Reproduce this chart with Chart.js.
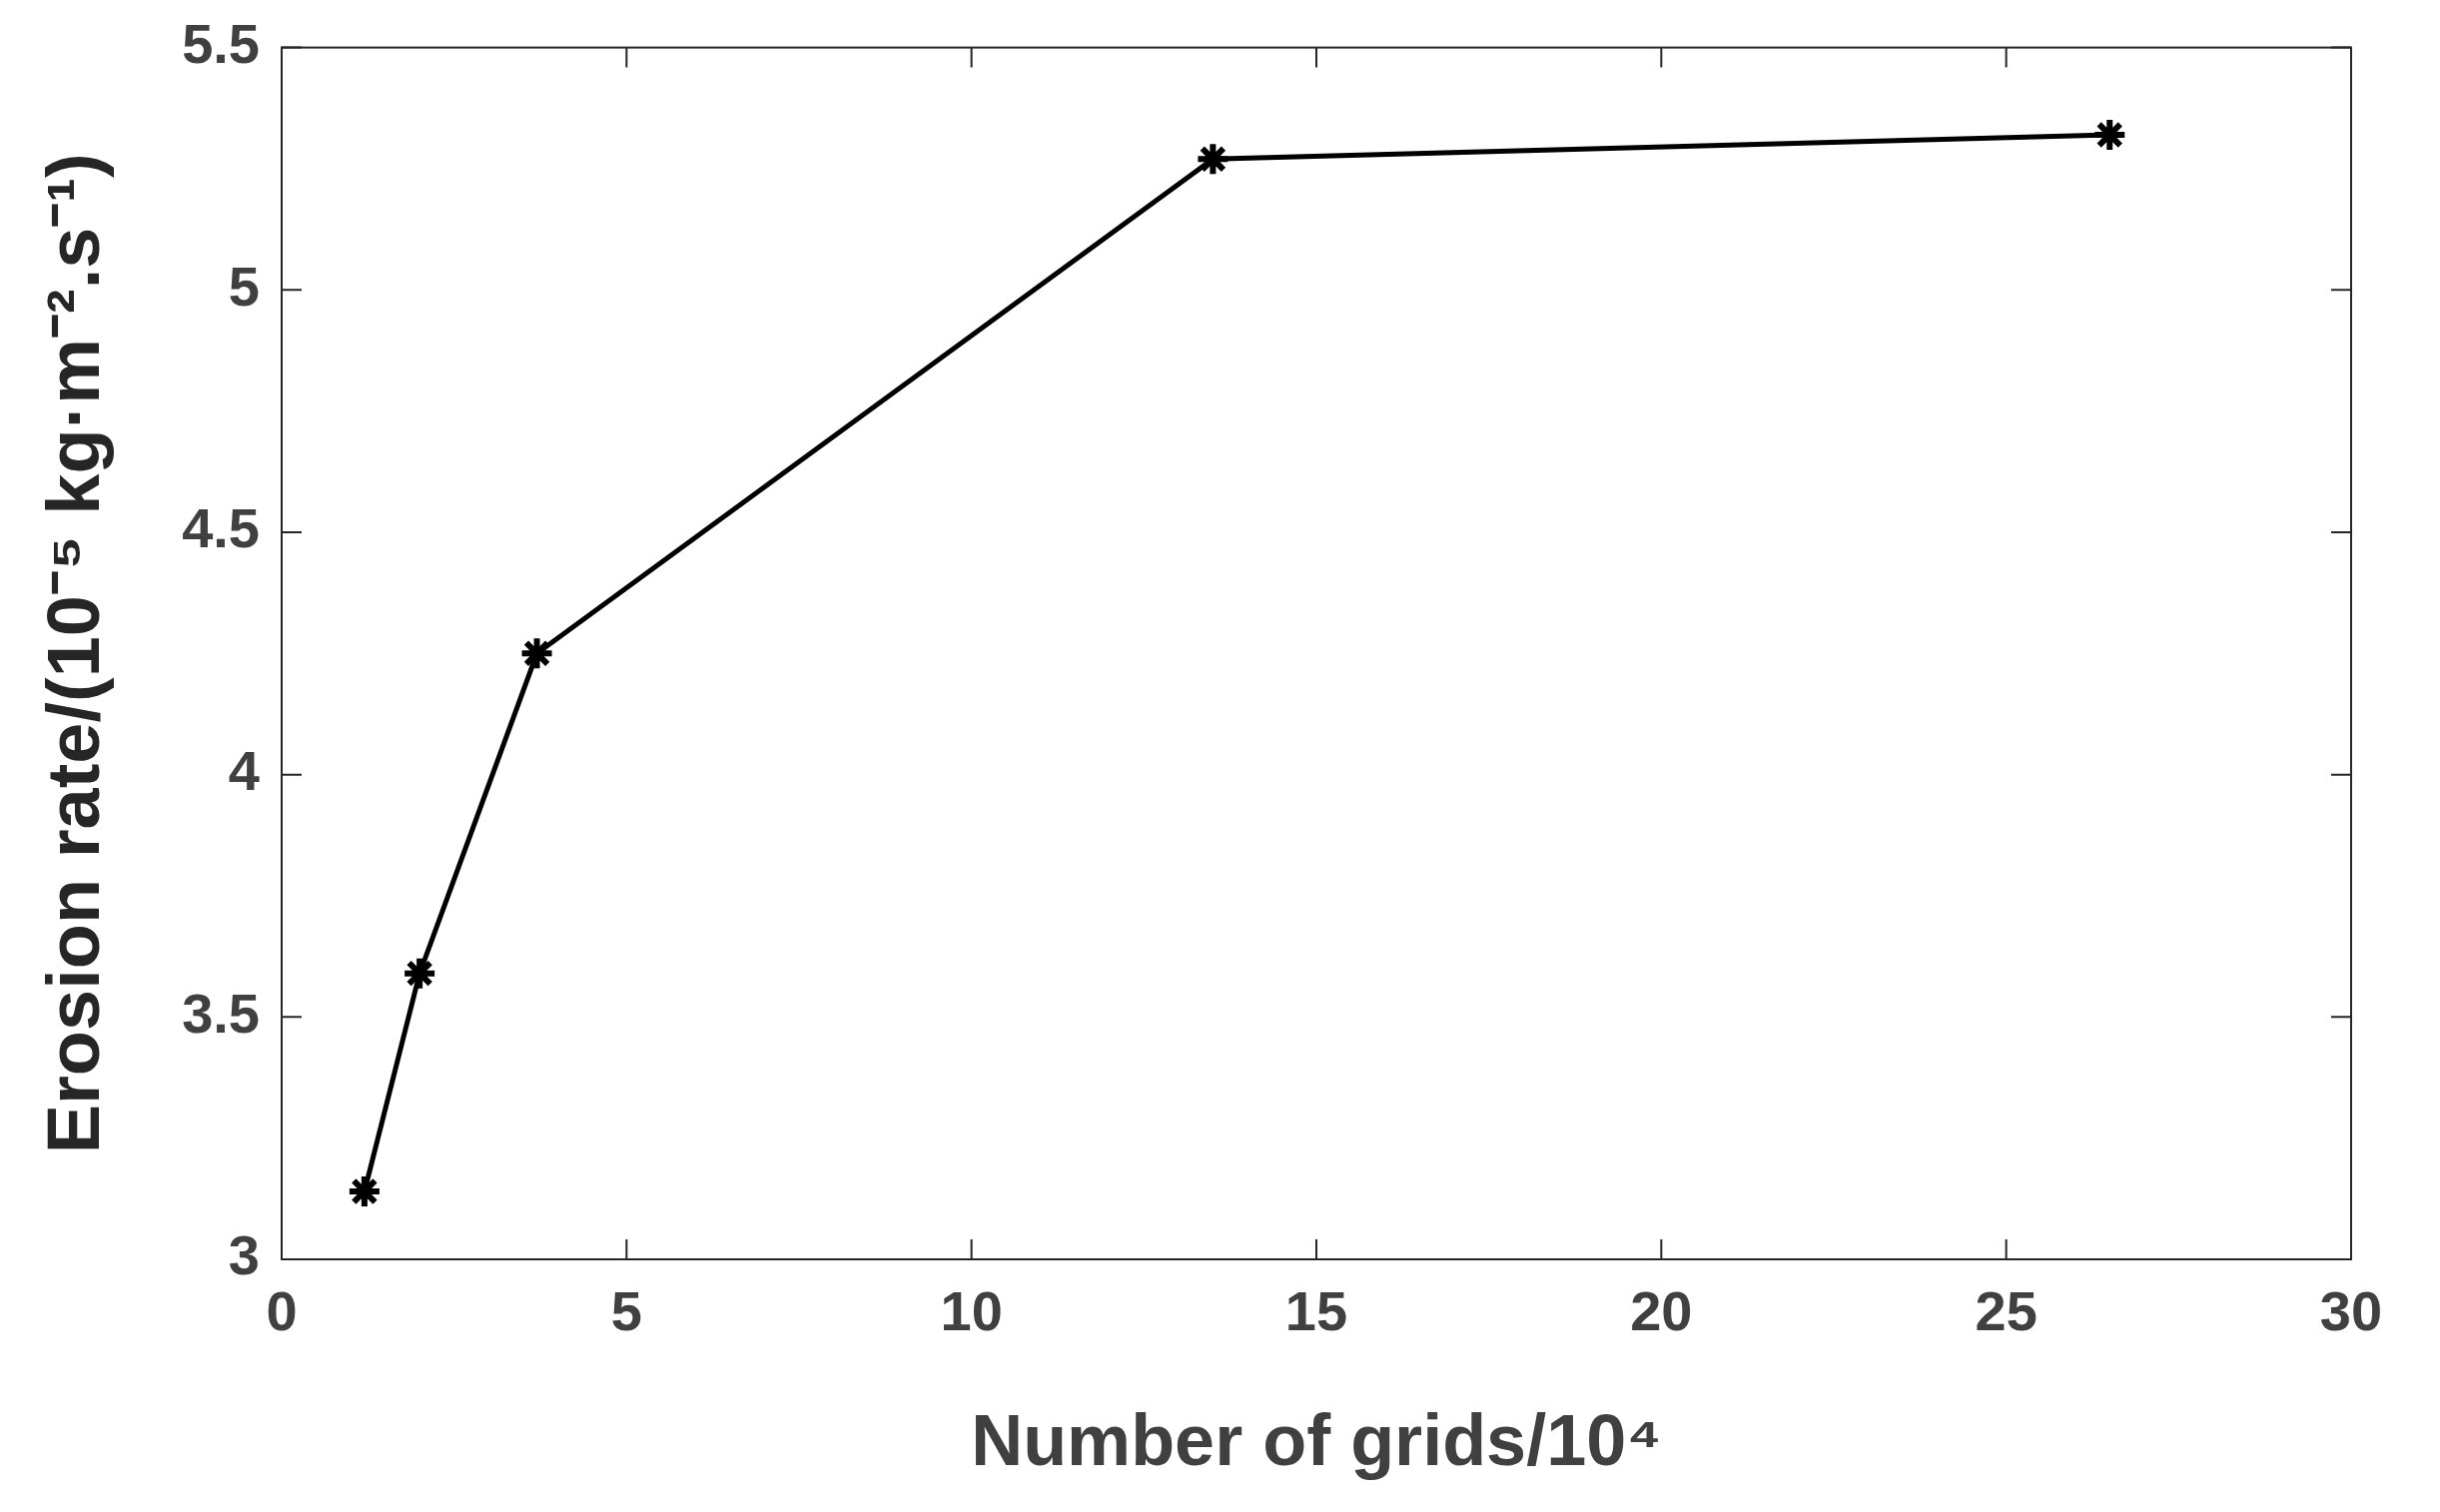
<!DOCTYPE html>
<html lang="en">
<head>
  <meta charset="UTF-8" />
  <title>Erosion rate vs number of grids</title>
  <script src="https://cdn.jsdelivr.net/npm/chart.js"></script>
  <style>
    body { margin: 0; background: #fff; }
    canvas { display: block; }
  </style>
</head>
<body>
  <canvas id="chart" width="2443" height="1514"></canvas>
  <script>
    const gridCounts = [1.2, 2.0, 3.7, 13.5, 26.5];
    const erosionRates = [3.14, 3.59, 4.25, 5.27, 5.32];

    const textColor = '#404040';
    const fontFamily = 'Liberation Sans, Arial, sans-serif';

    // MATLAB-style box with inward ticks on all four sides
    const boxTicks = {
      id: 'boxTicks',
      afterDraw(chart) {
        const { ctx, chartArea: a, scales: { x, y } } = chart;
        const len = 20;
        ctx.save();
        ctx.strokeStyle = '#262626';
        ctx.lineWidth = 2;
        ctx.strokeRect(a.left, a.top, a.right - a.left, a.bottom - a.top);
        ctx.beginPath();
        x.ticks.forEach(t => {
          const px = x.getPixelForValue(t.value);
          ctx.moveTo(px, a.bottom); ctx.lineTo(px, a.bottom - len);
          ctx.moveTo(px, a.top); ctx.lineTo(px, a.top + len);
        });
        y.ticks.forEach(t => {
          const py = y.getPixelForValue(t.value);
          ctx.moveTo(a.left, py); ctx.lineTo(a.left + len, py);
          ctx.moveTo(a.right, py); ctx.lineTo(a.right - len, py);
        });
        ctx.stroke();
        ctx.restore();
      }
    };

    new Chart(document.getElementById('chart'), {
      type: 'scatter',
      data: {
        datasets: [{
          data: gridCounts.map((g, i) => ({ x: g, y: erosionRates[i] })),
          showLine: true,
          borderColor: '#000',
          borderWidth: 5,
          pointStyle: 'star',
          pointRadius: 15,
          pointBorderWidth: 6,
          pointBorderColor: '#000',
          pointBackgroundColor: '#000'
        }]
      },
      options: {
        responsive: false,
        animation: false,
        layout: { padding: { left: 30, top: 47, right: 89, bottom: 20 } },
        plugins: { legend: { display: false }, tooltip: { enabled: false } },
        scales: {
          x: {
            min: 0, max: 30,
            ticks: { stepSize: 5, color: textColor, font: { family: fontFamily, size: 56, weight: 'bold' }, padding: 14 },
            grid: { display: false },
            border: { display: false },
            title: {
              display: true, text: 'Number of grids/10⁴', color: textColor,
              font: { family: fontFamily, size: 72, weight: 'bold' }, padding: { top: 14 }
            },
            afterFit(s) { s.height = 233; }
          },
          y: {
            min: 3, max: 5.5,
            ticks: {
              stepSize: 0.5, color: textColor, font: { family: fontFamily, size: 56, weight: 'bold' }, padding: 14,
              callback: v => String(v)
            },
            grid: { display: false },
            border: { display: false },
            title: {
              display: true, text: 'Erosion rate/(10⁻⁵ kg·m⁻².s⁻¹)', color: '#262626',
              font: { family: fontFamily, size: 74, weight: 'bold' }, padding: { bottom: 6 }
            },
            afterFit(s) { s.width = 252; }
          }
        }
      },
      plugins: [boxTicks]
    });
  </script>
</body>
</html>
